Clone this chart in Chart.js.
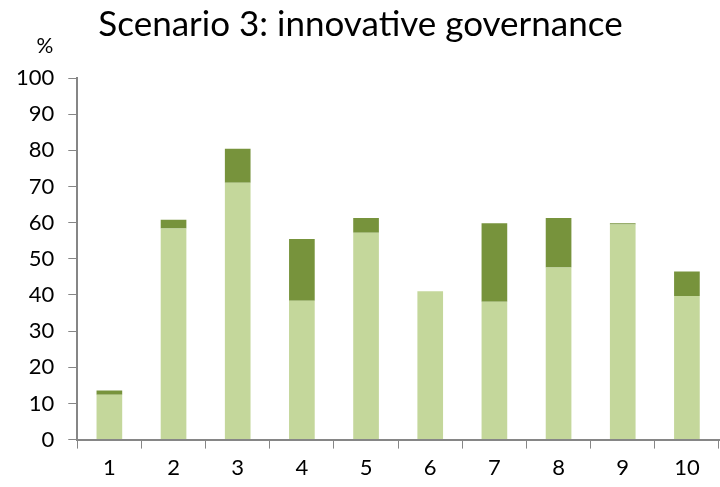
<!DOCTYPE html>
<html>
<head>
<meta charset="utf-8">
<script src="https://cdn.jsdelivr.net/npm/chart.js@4"></script>
<style>
  html, body { margin: 0; padding: 0; background: #fff; }
  #wrap { width: 720px; height: 487px; }
</style>
</head>
<body>
<div id="wrap"><canvas id="scenarioChart"></canvas></div>
<script>
const categories = ['1', '2', '3', '4', '5', '6', '7', '8', '9', '10'];
// lower (light) part of each bar
const baseValues = [12.4, 58.4, 71.0, 38.4, 57.2, 41.0, 38.1, 47.6, 59.5, 39.7];
// upper (dark) part stacked on top
const extraValues = [1.2, 2.4, 9.4, 17.1, 4.1, 0, 21.7, 13.7, 0.3, 6.8];
const yTicks = [0, 10, 20, 30, 40, 50, 60, 70, 80, 90, 100];

const axisGray = '#868686';
const fontFamily = 'Lato, "Open Sans", sans-serif';

// small "%" unit label above the y axis
const unitLabel = {
    id: 'unitLabel',
    afterDraw(chart) {
        const c = chart.ctx;
        const y = chart.scales.y;
        c.save();
        c.font = '21px ' + fontFamily;
        c.fillStyle = '#000';
        c.textAlign = 'center';
        c.textBaseline = 'bottom';
        c.fillText('%', 45, y.top - 21);
        c.restore();
    }
};

const ctx = document.getElementById('scenarioChart').getContext('2d');

const scenarioChart = new Chart(ctx, {
    type: 'bar',
    data: {
        labels: categories,
        datasets: [{
            label: 'base',
            data: baseValues,
            backgroundColor: '#C4D79B',
            categoryPercentage: 1,
            barPercentage: 0.4,
        }, {
            label: 'extra',
            data: extraValues,
            backgroundColor: '#77933C',
            categoryPercentage: 1,
            barPercentage: 0.4,
        }]
    },
    options: {
        responsive: true,
        maintainAspectRatio: false,
        animation: false,
        layout: {
            padding: { left: 2, right: 1, top: 4, bottom: 0 }
        },
        plugins: {
            legend: { display: false },
            tooltip: { enabled: false },
            title: {
                display: true,
                text: 'Scenario 3: innovative governance',
                font: { size: 35, family: fontFamily, weight: 'normal' },
                color: '#000',
                padding: { top: 0, bottom: 32 }
            }
        },
        scales: {
            x: {
                stacked: true,
                grid: {
                    drawOnChartArea: false,
                    drawTicks: true,
                    tickLength: 9,
                    color: axisGray
                },
                border: { color: axisGray, width: 2 },
                ticks: {
                    color: '#000',
                    font: { size: 22, family: fontFamily },
                    padding: 6
                }
            },
            y: {
                stacked: true,
                min: 0,
                max: 100,
                afterBuildTicks(axis) {
                    axis.ticks = yTicks.map(v => ({ value: v }));
                },
                grid: {
                    drawOnChartArea: false,
                    drawTicks: true,
                    tickLength: 9,
                    color: axisGray
                },
                border: { color: axisGray, width: 2 },
                ticks: {
                    color: '#000',
                    font: { size: 22, family: fontFamily },
                    padding: 14
                }
            }
        }
    },
    plugins: [unitLabel]
});
</script>
</body>
</html>
